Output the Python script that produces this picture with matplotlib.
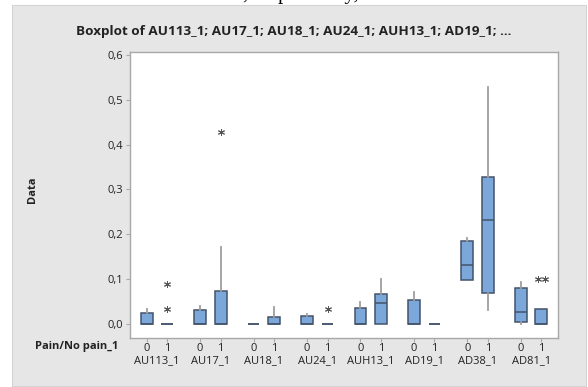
import matplotlib
matplotlib.use("Agg")
import matplotlib.pyplot as plt
from matplotlib.patches import Rectangle
from matplotlib.ticker import FixedLocator, FuncFormatter

plt.rcParams['font.family'] = ['Open Sans', 'DejaVu Sans']

groups = ["AU113_1", "AU17_1", "AU18_1", "AU24_1", "AUH13_1", "AD19_1", "AD38_1", "AD81_1"]
levels = ["0", "1"]

# stats per box, in order: group0-level0, group0-level1, ...
q1 =     [0.0,   0.0, 0.0,   0.0,   0.0, 0.0,   0.0,   0.0, 0.0,    0.0,   0.0,   0.0, 0.097, 0.069, 0.005, 0.0]
med =    [0.0,   0.0, 0.0,   0.0,   0.0, 0.0,   0.0,   0.0, 0.0,    0.046, 0.0,   0.0, 0.131, 0.231, 0.027, 0.0]
q3 =     [0.025, 0.0, 0.030, 0.073, 0.0, 0.016, 0.018, 0.0, 0.036,  0.066, 0.054, 0.0, 0.185, 0.328, 0.080, 0.034]
whislo = [0.0,   0.0, 0.0,   0.0,   0.0, 0.0,   0.0,   0.0, 0.0,    0.0,   0.0,   0.0, 0.097, 0.031, 0.0,   0.0]
whishi = [0.034, 0.0, 0.040, 0.171, 0.0, 0.037, 0.023, 0.0, 0.0485, 0.100, 0.071, 0.0, 0.192, 0.529, 0.093, 0.034]
fliers = [[], [0.033, 0.090], [], [0.428], [], [], [], [0.034], [], [], [], [], [], [], [], [0.101, 0.101]]

yticks = [0.0, 0.1, 0.2, 0.3, 0.4, 0.5, 0.6]

W, H = 588, 387
fig = plt.figure(figsize=(W / 100, H / 100), dpi=100)
fig.patch.set_facecolor("white")
fig.patches.append(Rectangle((12 / W, 1 - 386 / H), (586 - 12) / W, (386 - 5) / H,
                             transform=fig.transFigure, facecolor="#E6E6E6",
                             edgecolor="#D4D4D4", lw=0.8, zorder=-10))
fig.text(243 / W, 1 + 0.5 / H, ", respectively,", family="Liberation Serif",
         fontsize=15, va="baseline", ha="left", color="black")

ax = fig.add_axes([130 / W, 1 - 337.7 / H, (558 - 130) / W, (337.7 - 52) / H])
ax.set_facecolor("white")

positions = []
for g in range(len(groups)):
    for k in range(len(levels)):
        positions.append(g * 2.6 + k)

stats = []
for i in range(len(positions)):
    stats.append(dict(med=med[i], q1=q1[i], q3=q3[i], whislo=whislo[i], whishi=whishi[i], fliers=[]))

edge = "#44546A"
ax.bxp(stats, positions=positions, widths=0.57, patch_artist=True, showcaps=False,
       showfliers=False,
       boxprops=dict(facecolor="#7BA7DA", edgecolor=edge, lw=1.1),
       medianprops=dict(color=edge, lw=1.1),
       whiskerprops=dict(color="#9E9E9E", lw=1.3), manage_ticks=False)

for i, fl in enumerate(fliers):
    seen = {}
    for v in fl:
        seen[v] = seen.get(v, 0) + 1
    for v, n in seen.items():
        for j in range(n):
            off = (j - (n - 1) / 2) * 0.32
            ax.plot(positions[i] + off, v, marker=(6, 2, 0), ms=5, mew=0.7,
                    color="#555555", ls="none", zorder=5)

ax.set_xlim(-0.81, 20.01)
ax.set_ylim(-0.031, 0.607)
ax.yaxis.set_major_locator(FixedLocator(yticks))
ax.yaxis.set_major_formatter(FuncFormatter(lambda v, p: f"{v:.1f}".replace(".", ",")))
ax.set_xticks(positions)
ax.set_xticklabels(levels * len(groups))
for s in ax.spines.values():
    s.set_color("#A8A8A8")
    s.set_linewidth(1.0)
ax.tick_params(axis="both", colors="#A8A8A8", length=3, width=0.8, labelcolor="#222222",
               labelsize=8)
ax.tick_params(axis="x", pad=0.5)
ax.tick_params(axis="y", pad=2)

xt = ax.get_xaxis_transform()
for g, name in enumerate(groups):
    ax.text(g * 2.6 + 0.5, -(361 - 337.7) / 285.7, name, transform=xt, ha="center",
            va="center", fontsize=8, color="#222222")
ax.text(118 / W, 1 - 347 / H, "Pain/No pain_1", transform=fig.transFigure, ha="right",
        va="center", fontsize=8, fontweight="bold", color="#222222")
fig.text(33 / W, 1 - 190 / H, "Data", rotation=90, ha="center", va="center",
         fontsize=8, fontweight="bold", color="#222222")
fig.text(294 / W, 1 - 32 / H, "Boxplot of AU113_1; AU17_1; AU18_1; AU24_1; AUH13_1; AD19_1; ...",
         ha="center", va="center", fontsize=9.7, fontweight="bold", color="#222222")

fig.savefig("out.png", dpi=100, facecolor=fig.get_facecolor())
